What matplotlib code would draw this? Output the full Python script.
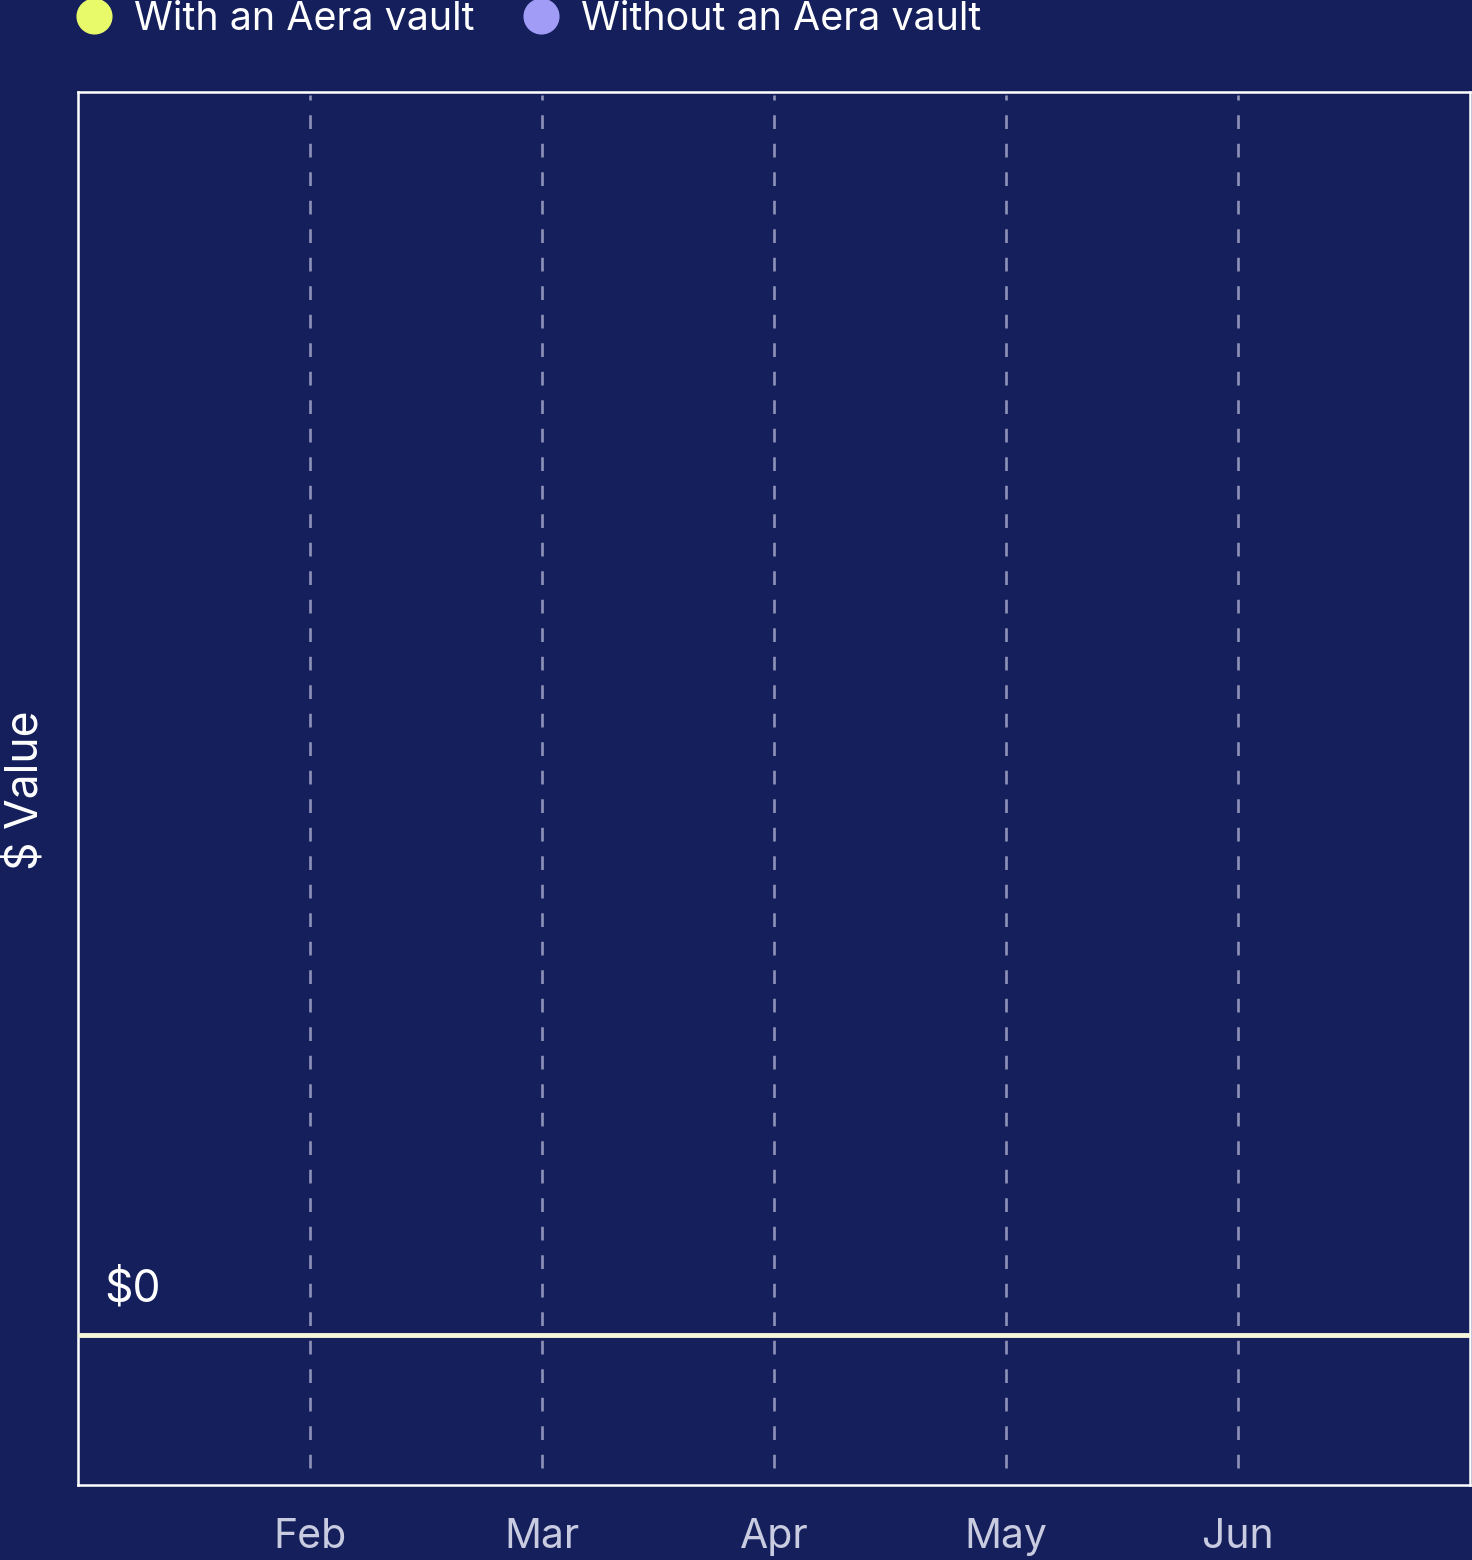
import matplotlib.pyplot as plt
from matplotlib.lines import Line2D

# data: both series sit on the $0 baseline
months = ["Jan", "Feb", "Mar", "Apr", "May", "Jun", "Jul"]
with_vault = [0, 0, 0, 0, 0, 0, 0]
without_vault = [0, 0, 0, 0, 0, 0, 0]
tick_months = ["Feb", "Mar", "Apr", "May", "Jun"]

BG = "#141F5C"
YELLOW = "#E8FA6A"
LAVENDER = "#A19DF6"
CREAM = "#F5F5D8"
GRID = "#8D92B8"

plt.rcParams.update({
    "font.family": ["Inter", "DejaVu Sans"],
    "figure.dpi": 100,
})

fig = plt.figure(figsize=(14.72, 15.6), facecolor=BG)
ax = fig.add_axes([78 / 1472, 75 / 1560, 1392 / 1472, 1393 / 1560])
ax.set_facecolor(BG)

x = list(range(len(months)))
ax.plot(x, without_vault, color=LAVENDER, lw=3.4, zorder=3)
ax.plot(x, with_vault, color=CREAM, lw=3.4, zorder=4)

ax.set_xlim(0, len(months) - 1)
ax.set_ylim(-1, 8.285)

for m in tick_months:
    ax.axvline(months.index(m), ymin=0.012, ymax=0.998, color=GRID,
               lw=1.9, linestyle=(0, (5.2, 5.6)), zorder=1)

ax.set_xticks([months.index(m) for m in tick_months])
ax.set_xticklabels(tick_months, color="#C9CCE0", fontsize=29.5)
ax.tick_params(axis="x", length=0, pad=24)
ax.set_yticks([])

for s in ax.spines.values():
    s.set_color("white")
    s.set_linewidth(1.8)

ax.annotate("$0", xy=(0, 0), xycoords="data", xytext=(19, 24),
            textcoords="offset points", fontsize=32, color="white",
            va="baseline", ha="left")
ax.set_ylabel("$ Value", color="white", fontsize=32)
ax.yaxis.set_label_coords(-(78 - 47) / 1392, (1485 - 790) / 1393)

handles = [
    Line2D([], [], marker="o", ls="", markersize=25, color=YELLOW, label="With an Aera vault"),
    Line2D([], [], marker="o", ls="", markersize=25, color=LAVENDER, label="Without an Aera vault"),
]
leg = fig.legend(handles=handles, loc="center left", ncol=2, frameon=False,
                 bbox_to_anchor=(35 / 1472, 1 - 19 / 1560), fontsize=28.4,
                 handletextpad=0.4, columnspacing=1.1, handlelength=1.2)
for t in leg.get_texts():
    t.set_color("white")

fig.savefig("out.png", facecolor=BG)
